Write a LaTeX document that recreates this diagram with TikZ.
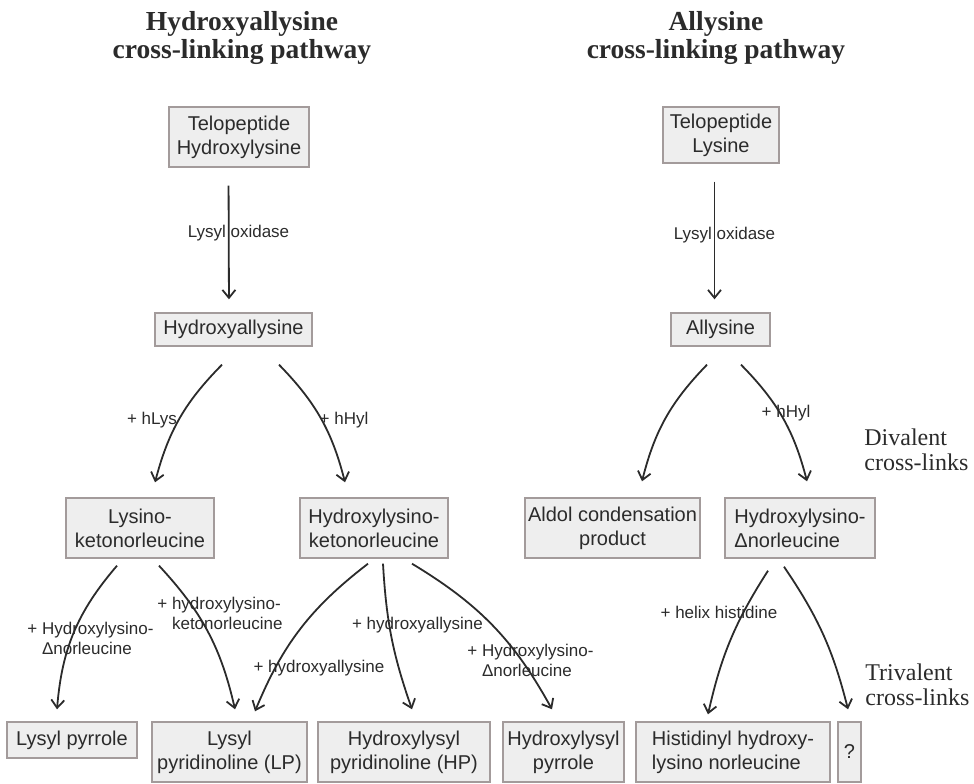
\documentclass[tikz,border=0pt]{standalone}
\usepackage{fontspec}
\setmainfont{Liberation Serif}
\setsansfont{Liberation Sans}
\usepackage{xcolor}
\usepackage{tikz}
\usetikzlibrary{arrows.meta}

\definecolor{boxfill}{HTML}{EEEEEE}
\definecolor{boxline}{HTML}{A39B9B}
\definecolor{ink}{HTML}{2B2B2B}

\begin{document}
\begin{tikzpicture}[
  x=0.5pt, y=0.5pt,
  every node/.style={text=ink},
  stepbox/.style={draw=boxline, line width=0.7pt, fill=boxfill, inner xsep=1.5pt,
                  inner ysep=2pt, align=center, font=\sffamily\fontsize{10}{12}\selectfont},
  heading/.style={inner sep=0pt, align=center, anchor=north,
                  font=\bfseries\fontsize{13.75}{14}\selectfont},
  note/.style={inner sep=0pt, align=left, anchor=north west,
               font=\fontsize{12}{12.5}\selectfont},
  lbl/.style={inner sep=0pt, align=left, font=\sffamily\fontsize{8.5}{10}\selectfont},
  arr/.style={-{Straight Barb[length=4pt, width=6.5pt]}, line width=0.9pt, draw=ink}
]
\useasboundingbox (0,0) rectangle (974,783);

\node[heading] (hd1) at (242,772) {Hydroxyallysine\\cross-linking pathway};
\node[heading] (hd2) at (716,772) {Allysine\\cross-linking pathway};

\node[stepbox, minimum width=70pt, minimum height=30pt] (tel1) at (239,646) {Telopeptide\\Hydroxylysine};
\node[stepbox, minimum width=58pt, minimum height=28pt] (tel2) at (721,648) {Telopeptide\\Lysine};
\node[stepbox, minimum width=78.5pt, minimum height=16.5pt] (hyal) at (233.5,453.5) {Hydroxyallysine};
\node[stepbox, minimum width=49.5pt, minimum height=16.5pt] (ally) at (720.5,453.5) {Allysine};
\node[stepbox, minimum width=74pt, minimum height=30pt] (lkn) at (140,255) {Lysino-\\ketonorleucine};
\node[stepbox, minimum width=74pt, minimum height=30pt] (hkn) at (374,255) {Hydroxylysino-\\ketonorleucine};
\node[stepbox, minimum width=87.5pt, minimum height=30pt] (aldol) at (612.5,255) {Aldol condensation\\product};
\node[stepbox, minimum width=75pt, minimum height=30pt, align=left] (hlnl) at (800,255) {Hydroxylysino-\\Δnorleucine};
\node[stepbox, minimum width=65pt, minimum height=18pt] (lpyr) at (72,43) {Lysyl pyrrole};
\node[stepbox, minimum width=77.5pt, minimum height=30pt] (lp) at (229.5,31) {Lysyl\\pyridinoline (LP)};
\node[stepbox, minimum width=86pt, minimum height=30pt] (hp) at (404,31) {Hydroxylysyl\\pyridinoline (HP)};
\node[stepbox, minimum width=60.5pt, minimum height=30pt] (hpyr) at (563.5,31) {Hydroxylysyl\\pyrrole};
\node[stepbox, minimum width=97pt, minimum height=30pt, align=left] (hhln) at (733,31) {Histidinyl hydroxy-\\lysino norleucine};
\node[stepbox, minimum width=11.5pt, minimum height=30pt] (unk) at (849.5,31) {?};

\node[note] (div) at (864,355) {Divalent\\cross-links};
\node[note] (tri) at (865,120) {Trivalent\\cross-links};

\node[lbl] (lox1) at (238.5,550) {Lysyl oxidase};
\node[lbl] (lox2) at (724.5,548) {Lysyl oxidase};
\node[lbl] (hlys) at (152,363) {+ hLys};
\node[lbl] (hhyl1) at (344,363) {+ hHyl};
\node[lbl] (hhyl2) at (786,370) {+ hHyl};
\node[lbl, anchor=west] (plnl1) at (27,145) {+ Hydroxylysino-\\\phantom{+}\ Δnorleucine};
\node[lbl, anchor=west] (phkn) at (157,170) {+ hydroxylysino-\\\phantom{+}\ ketonorleucine};
\node[lbl] (phyal1) at (319,115) {+ hydroxyallysine};
\node[lbl] (phyal2) at (417.5,158) {+ hydroxyallysine};
\node[lbl, anchor=west] (plnl2) at (467,123) {+ Hydroxylysino-\\\phantom{+}\ Δnorleucine};
\node[lbl] (phis) at (719,171) {+ helix histidine};

\draw[arr, shorten <=9pt, shorten >=6.5pt] ([xshift=-5.25pt]tel1.south) -- ([xshift=-2.25pt]hyal.north);
\draw[arr, shorten <=9pt, shorten >=6.5pt] ([xshift=-3.25pt]tel2.south) -- ([xshift=-3pt]ally.north);
\draw[arr] ([xshift=-5.75pt, yshift=-9pt]hyal.south) to[bend right=15] ([xshift=7.5pt, yshift=7.5pt]lkn.north);
\draw[arr] ([xshift=22.75pt, yshift=-9pt]hyal.south) to[bend left=15] ([xshift=-14.5pt, yshift=7.5pt]hkn.north);
\draw[arr] ([xshift=-6.75pt, yshift=-9pt]ally.south) to[bend right=15] ([xshift=14.75pt, yshift=8pt]aldol.north);
\draw[arr] ([xshift=10.25pt, yshift=-9pt]ally.south) to[bend left=15] ([xshift=3.5pt, yshift=8pt]hlnl.north);
\draw[arr] ([xshift=-11.5pt, yshift=-3.5pt]lkn.south) to[bend right=18] ([xshift=-7.5pt, yshift=6pt]lpyr.north);
\draw[arr] ([xshift=9.5pt, yshift=-3.5pt]lkn.south) to[bend left=15] ([xshift=2.75pt, yshift=6pt]lp.north);
\draw[arr] ([xshift=-3pt, yshift=-2.5pt]hkn.south) to[bend right=15] ([xshift=12.75pt, yshift=5pt]lp.north);
\draw[arr] ([xshift=4.5pt, yshift=-2.5pt]hkn.south) to[bend right=8] ([xshift=4pt, yshift=6pt]hp.north);
\draw[arr] ([xshift=19pt, yshift=-2.5pt]hkn.south) to[bend left=15] ([xshift=-5.75pt, yshift=6pt]hpyr.north);
\draw[arr] ([xshift=-16pt, yshift=-6pt]hlnl.south) to[bend right=10] ([xshift=-12.5pt, yshift=3.5pt]hhln.north);
\draw[arr] ([xshift=-8pt, yshift=-4pt]hlnl.south) to[bend left=10] ([xshift=-0.75pt, yshift=6pt]unk.north);
\end{tikzpicture}
\end{document}
